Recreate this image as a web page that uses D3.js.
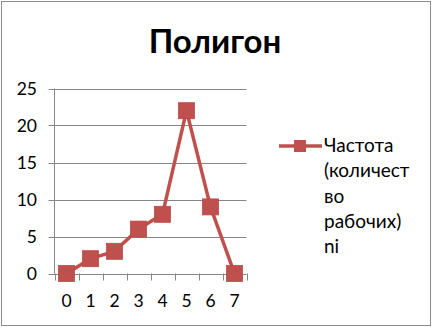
<!DOCTYPE html>
<html>
<head>
<meta charset="utf-8">
<script src="https://cdn.jsdelivr.net/npm/d3@7"></script>
<style>
  html, body { margin: 0; padding: 0; background: #fff; }
  svg { display: block; }
</style>
</head>
<body>
<svg id="chart"></svg>
<script>
// data
const categories = ['0', '1', '2', '3', '4', '5', '6', '7'];
const values = [0, 2, 3, 6, 8, 22, 9, 0];
const yTicks = [0, 5, 10, 15, 20, 25];
const seriesName = ['Частота', '(количест', 'во', 'рабочих)', 'ni'];
const title = 'Полигон';

const W = 432, H = 327;
const red = '#C0504D';
const grid = '#868686';
const font = 'Lato, "Open Sans", sans-serif';

const svg = d3.select('#chart').attr('width', W).attr('height', H);

svg.append('rect')
  .attr('x', 1.5).attr('y', 1.5)
  .attr('width', W - 3).attr('height', H - 3)
  .attr('fill', '#fff')
  .attr('stroke', '#8c8c8c')
  .attr('stroke-width', 1);

svg.append('text')
  .attr('x', 215).attr('y', 53)
  .attr('text-anchor', 'middle')
  .attr('font-family', font)
  .attr('font-weight', 'bold')
  .attr('font-size', 33)
  .attr('fill', '#000')
  .text(title);

const plot = { left: 54.5, right: 246.5, top: 88.5, bottom: 273.5 };

const x = d3.scaleBand().domain(categories).range([plot.left, plot.right]);
const y = d3.scaleLinear().domain([0, 25]).range([plot.bottom, plot.top]);

const g = svg.append('g');

// horizontal gridlines
g.selectAll('line.grid')
  .data(yTicks)
  .join('line')
  .attr('class', 'grid')
  .attr('x1', plot.left - 6).attr('x2', plot.right)
  .attr('y1', (d) => Math.round(y(d)) + 0.5)
  .attr('y2', (d) => Math.round(y(d)) + 0.5)
  .attr('stroke', grid)
  .attr('stroke-width', 1);

// y axis line
g.append('line')
  .attr('x1', plot.left).attr('x2', plot.left)
  .attr('y1', plot.top).attr('y2', plot.bottom)
  .attr('stroke', grid);

// x axis ticks between categories
const bounds = categories.map((c) => x(c)).concat([plot.right]);
g.selectAll('line.xtick')
  .data(bounds)
  .join('line')
  .attr('class', 'xtick')
  .attr('x1', (d) => Math.round(d) + 0.5).attr('x2', (d) => Math.round(d) + 0.5)
  .attr('y1', plot.bottom).attr('y2', plot.bottom + 7)
  .attr('stroke', grid);

// y labels
g.selectAll('text.ylab')
  .data(yTicks)
  .join('text')
  .attr('class', 'ylab')
  .attr('x', 37)
  .attr('y', (d) => y(d))
  .attr('dy', '0.35em')
  .attr('text-anchor', 'end')
  .attr('font-family', font)
  .attr('font-size', 17.5)
  .attr('fill', '#000')
  .text((d) => d);

// x labels
g.selectAll('text.xlab')
  .data(categories)
  .join('text')
  .attr('class', 'xlab')
  .attr('x', (d) => x(d) + x.bandwidth() / 2)
  .attr('y', 307)
  .attr('text-anchor', 'middle')
  .attr('font-family', font)
  .attr('font-size', 17.5)
  .attr('fill', '#000')
  .text((d) => d);

// series line
const line = d3.line()
  .x((d, i) => x(categories[i]) + x.bandwidth() / 2)
  .y((d) => y(d));

g.append('path')
  .datum(values)
  .attr('d', line)
  .attr('fill', 'none')
  .attr('stroke', red)
  .attr('stroke-width', 3.5)
  .attr('stroke-linejoin', 'round');

const ms = 16;
g.selectAll('rect.marker')
  .data(values)
  .join('rect')
  .attr('class', 'marker')
  .attr('x', (d, i) => x(categories[i]) + x.bandwidth() / 2 - ms / 2)
  .attr('y', (d) => y(d) - ms / 2)
  .attr('width', ms).attr('height', ms)
  .attr('fill', red)
  .attr('stroke', '#b84a47')
  .attr('stroke-width', 0.8);

// legend
const lg = svg.append('g');
lg.append('line')
  .attr('x1', 279).attr('x2', 322)
  .attr('y1', 146).attr('y2', 146)
  .attr('stroke', red)
  .attr('stroke-width', 3.5);
lg.append('rect')
  .attr('x', 300 - 6).attr('y', 146 - 6)
  .attr('width', 12).attr('height', 12)
  .attr('fill', red);
lg.selectAll('text')
  .data(seriesName)
  .join('text')
  .attr('x', 324)
  .attr('y', (d, i) => 152 + i * 25.3)
  .attr('font-family', font)
  .attr('font-size', 19)
  .attr('fill', '#000')
  .text((d) => d);
</script>
</body>
</html>
